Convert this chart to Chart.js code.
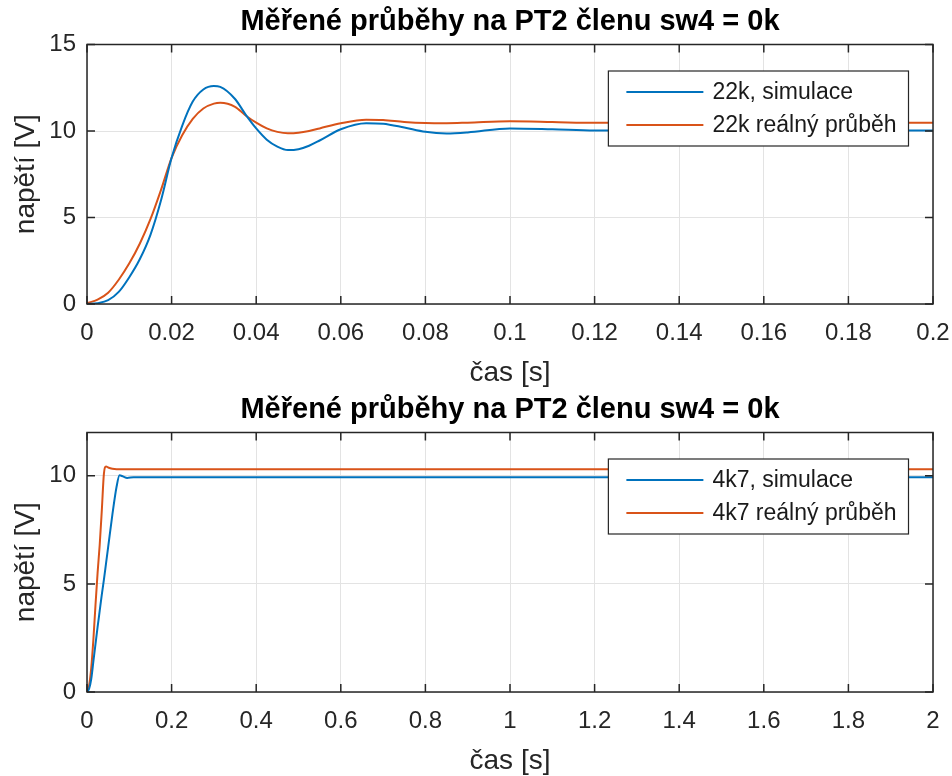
<!DOCTYPE html>
<html>
<head>
<meta charset="utf-8">
<script src="https://cdn.jsdelivr.net/npm/chart.js@4/dist/chart.umd.min.js"></script>
<style>
  body { margin: 0; background: #fff; }
  .plot { position: absolute; left: 0; width: 952px; height: 388px; }
</style>
</head>
<body>
<div class="plot" style="top:0"><canvas id="chartTop" width="952" height="388"></canvas></div>
<div class="plot" style="top:388px"><canvas id="chartBottom" width="952" height="388"></canvas></div>
<script>
const titleText = 'Měřené průběhy na PT2 členu sw4 = 0k';
const xLabel = 'čas [s]';
const yLabel = 'napětí [V]';

// horní graf - 22k
const labelsTop = ['22k, simulace', '22k reálný průběh'];
const timeTop = [0, 0.0025, 0.005, 0.0075, 0.01, 0.0125, 0.015, 0.0175, 0.02, 0.0225, 0.025, 0.0275,
  0.03, 0.0315, 0.035, 0.0375, 0.04, 0.0425, 0.045, 0.0475, 0.05, 0.0525, 0.055, 0.06, 0.066, 0.07,
  0.075, 0.08, 0.085, 0.09, 0.1, 0.11, 0.12, 0.14, 0.16, 0.18, 0.2];
const simTop = [0, 0.05, 0.22, 0.7, 1.55, 2.6, 4.0, 6.0, 8.45, 10.3, 11.7, 12.4,
  12.6, 12.55, 11.85, 10.95, 10.15, 9.5, 9.1, 8.9, 8.95, 9.15, 9.45, 10.1, 10.45, 10.42,
  10.2, 9.95, 9.86, 9.92, 10.15, 10.1, 10.03, 10.03, 10.03, 10.03, 10.03];
const realTop = [0.05, 0.25, 0.65, 1.4, 2.35, 3.5, 4.9, 6.6, 8.45, 9.75, 10.7, 11.3,
  11.58, 11.63, 11.4, 10.9, 10.48, 10.15, 9.95, 9.87, 9.9, 10.0, 10.15, 10.45, 10.65, 10.63,
  10.52, 10.46, 10.45, 10.48, 10.56, 10.52, 10.47, 10.48, 10.48, 10.48, 10.48];
const xTicksTop = [0, 0.02, 0.04, 0.06, 0.08, 0.1, 0.12, 0.14, 0.16, 0.18, 0.2];
const yTicksTop = [0, 5, 10, 15];

// dolní graf - 4k7
const labelsBottom = ['4k7, simulace', '4k7 reálný průběh'];
const timeBottom = [0, 0.005, 0.01, 0.015, 0.02, 0.025, 0.03, 0.035, 0.04, 0.045, 0.05, 0.06,
  0.07, 0.077, 0.085, 0.095, 0.11, 0.15, 0.3, 0.6, 1, 1.5, 2];
const simBottom = [0, 0.15, 0.6, 1.4, 2.2, 3.0, 3.75, 4.5, 5.2, 5.95, 6.7, 8.2,
  9.5, 10.02, 9.97, 9.9, 9.93, 9.93, 9.93, 9.93, 9.93, 9.93, 9.93];
const realBottom = [0, 0.3, 1.1, 2.4, 4.0, 5.5, 6.8, 8.4, 10.1, 10.43, 10.38, 10.32,
  10.3, 10.3, 10.3, 10.3, 10.3, 10.3, 10.3, 10.3, 10.3, 10.3, 10.3];
const xTicksBottom = [0, 0.2, 0.4, 0.6, 0.8, 1, 1.2, 1.4, 1.6, 1.8, 2];
const yTicksBottom = [0, 5, 10];

const FONT = "'Liberation Sans', Arial, Helvetica, sans-serif";
const AXIS_COLOR = '#262626';
const BLUE = '#0072BD';
const ORANGE = '#D95319';

// titul, rámeček, vnitřní tiky a legenda ve stylu MATLABu
const matlabAxes = {
  id: 'matlabAxes',
  afterDraw(chart) {
    const { ctx, chartArea: a, scales: { x, y } } = chart;
    ctx.save();

    ctx.fillStyle = '#000';
    ctx.font = 'bold 29px ' + FONT;
    ctx.textAlign = 'center';
    ctx.textBaseline = 'middle';
    ctx.fillText(titleText, (a.left + a.right) / 2, 22);

    ctx.strokeStyle = AXIS_COLOR;
    ctx.lineWidth = 1.5;
    ctx.beginPath();
    x.ticks.forEach(t => {
      const px = x.getPixelForValue(t.value);
      ctx.moveTo(px, a.bottom); ctx.lineTo(px, a.bottom - 8);
      ctx.moveTo(px, a.top); ctx.lineTo(px, a.top + 8);
    });
    y.ticks.forEach(t => {
      const py = y.getPixelForValue(t.value);
      ctx.moveTo(a.left, py); ctx.lineTo(a.left + 8, py);
      ctx.moveTo(a.right, py); ctx.lineTo(a.right - 8, py);
    });
    ctx.stroke();
    ctx.strokeRect(a.left, a.top, a.right - a.left, a.bottom - a.top);

    ctx.font = '23px ' + FONT;
    const sets = chart.data.datasets;
    const textW = Math.max(...sets.map(d => ctx.measureText(d.label).width));
    const boxW = 18 + 77 + 9 + textW + 12;
    const boxH = 75;
    const right = a.right - 24.5;
    const left = right - boxW;
    const top = a.top + 26.5;
    ctx.fillStyle = '#fff';
    ctx.fillRect(left, top, boxW, boxH);
    ctx.lineWidth = 1.2;
    ctx.strokeRect(left, top, boxW, boxH);
    ctx.textBaseline = 'middle';
    ctx.textAlign = 'left';
    sets.forEach((d, i) => {
      const ry = top + 21 + i * 33;
      ctx.strokeStyle = d.borderColor;
      ctx.lineWidth = 2;
      ctx.beginPath();
      ctx.moveTo(left + 18, ry);
      ctx.lineTo(left + 95, ry);
      ctx.stroke();
      ctx.fillStyle = '#1a1a1a';
      ctx.fillText(d.label, left + 104, ry + 1);
    });
    ctx.restore();
  }
};

function fmt(v) {
  return String(+Number(v).toFixed(4));
}

function makeChart(id, time, sim, real, labels, xTicks, yTicks, xMax, yMax) {
  return new Chart(document.getElementById(id), {
    type: 'line',
    data: {
      datasets: [
        {
          label: labels[0],
          data: time.map((t, i) => ({ x: t, y: sim[i] })),
          borderColor: BLUE,
          borderWidth: 2,
          pointRadius: 0,
          cubicInterpolationMode: 'monotone'
        },
        {
          label: labels[1],
          data: time.map((t, i) => ({ x: t, y: real[i] })),
          borderColor: ORANGE,
          borderWidth: 2,
          pointRadius: 0,
          cubicInterpolationMode: 'monotone'
        }
      ]
    },
    options: {
      responsive: false,
      animation: false,
      layout: { padding: { left: 0, right: 19, top: 44.5, bottom: 0 } },
      plugins: {
        legend: { display: false },
        tooltip: { enabled: false },
        title: { display: false }
      },
      scales: {
        x: {
          type: 'linear',
          min: 0,
          max: xMax,
          afterBuildTicks: s => { s.ticks = xTicks.map(v => ({ value: v })); },
          afterFit: s => { s.height = 84; s.paddingLeft = 0; s.paddingRight = 0; },
          grid: { color: '#e3e3e3', lineWidth: 1, drawTicks: false },
          border: { display: false },
          ticks: {
            autoSkip: false,
            maxRotation: 0,
            padding: 15,
            color: AXIS_COLOR,
            font: { family: FONT, size: 24 },
            callback: v => fmt(v)
          },
          title: {
            display: true,
            text: xLabel,
            color: AXIS_COLOR,
            font: { family: FONT, size: 28, lineHeight: 1 },
            padding: { top: 0, bottom: 1 }
          }
        },
        y: {
          min: 0,
          max: yMax,
          afterBuildTicks: s => { s.ticks = yTicks.map(v => ({ value: v })); },
          afterFit: s => { s.width = 87; s.paddingTop = 0; s.paddingBottom = 0; },
          grid: { color: '#e3e3e3', lineWidth: 1, drawTicks: false },
          border: { display: false },
          ticks: {
            autoSkip: false,
            padding: 11,
            color: AXIS_COLOR,
            font: { family: FONT, size: 24 },
            callback: v => fmt(v)
          },
          title: {
            display: true,
            text: yLabel,
            color: AXIS_COLOR,
            font: { family: FONT, size: 28, lineHeight: 1 },
            padding: { top: 12, bottom: 0 }
          }
        }
      }
    },
    plugins: [matlabAxes]
  });
}

makeChart('chartTop', timeTop, simTop, realTop, labelsTop, xTicksTop, yTicksTop, 0.2, 15);
makeChart('chartBottom', timeBottom, simBottom, realBottom, labelsBottom, xTicksBottom, yTicksBottom, 2, 12);
</script>
</body>
</html>
